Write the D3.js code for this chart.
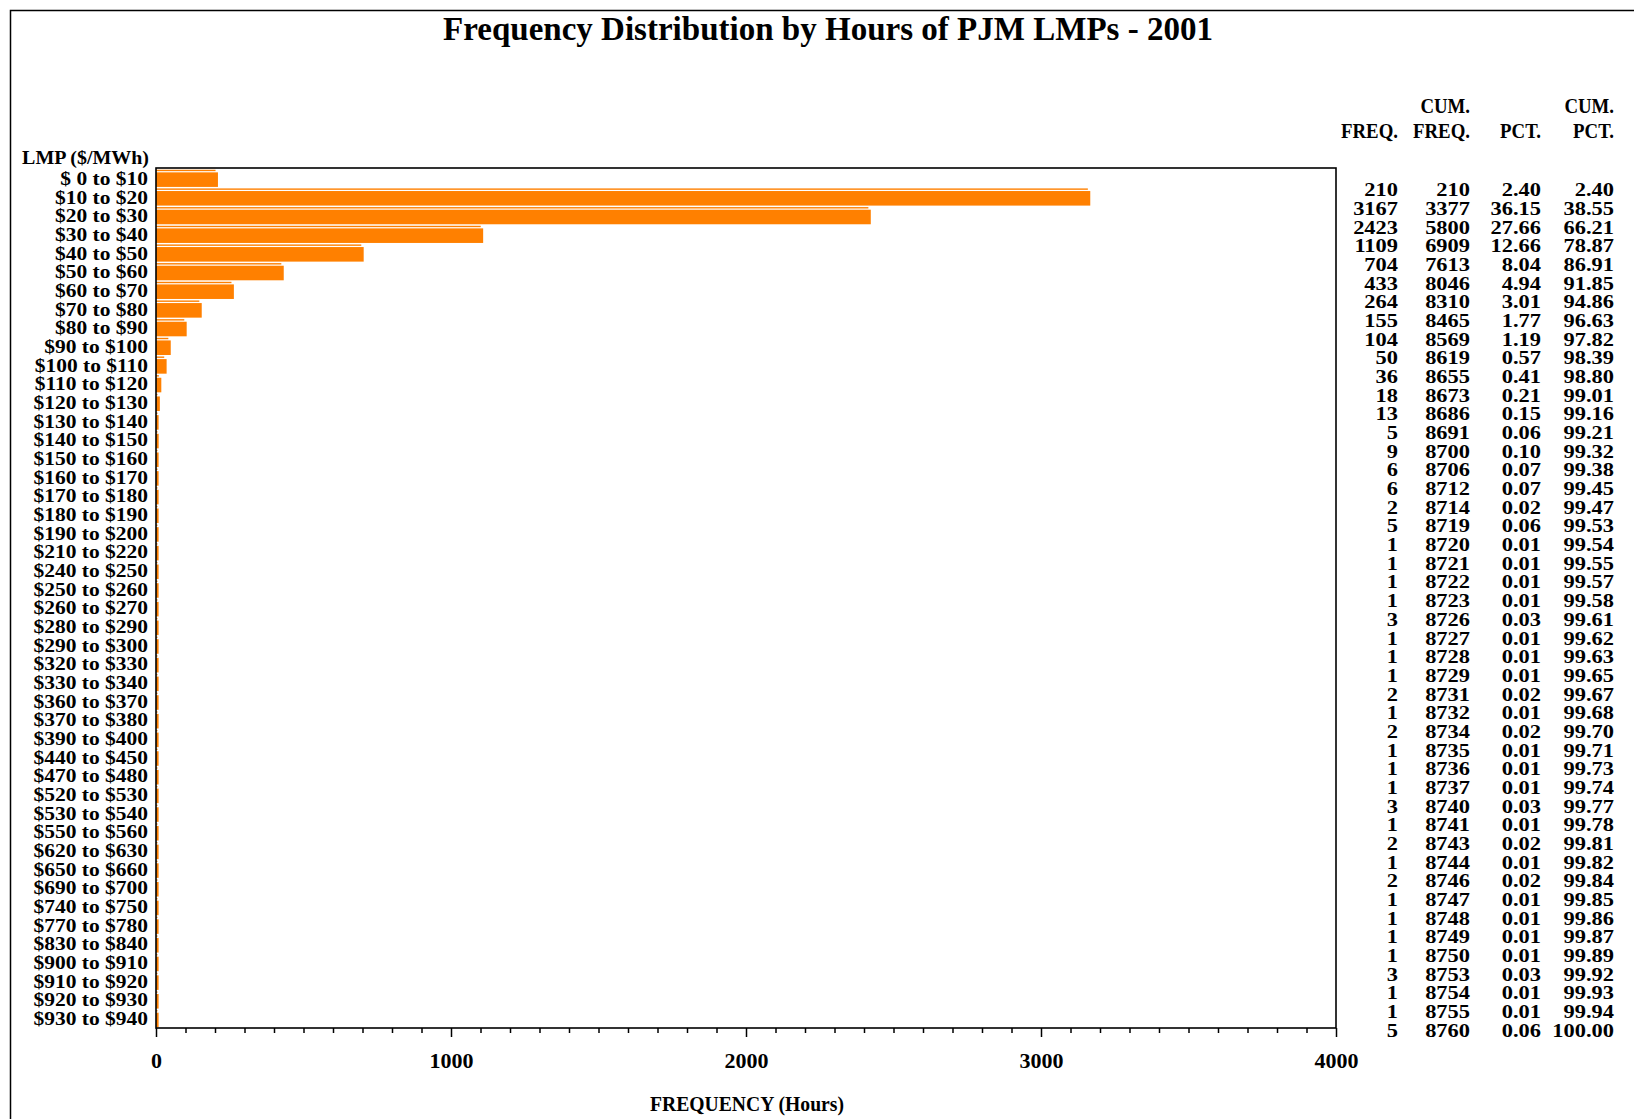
<!DOCTYPE html>
<html>
<head>
<meta charset="utf-8">
<script src="https://cdn.jsdelivr.net/npm/d3@7"></script>
<style>
  html, body { margin: 0; padding: 0; background: #fff; }
  svg { display: block; }
  text { font-family: "Liberation Serif", "Times New Roman", serif; font-weight: bold; fill: #000; }
</style>
</head>
<body>
<svg id="chart" width="1634" height="1119"></svg>
<script>
const titleText = "Frequency Distribution by Hours of PJM LMPs - 2001";
const yAxisTitle = "LMP ($/MWh)";
const xAxisTitle = "FREQUENCY (Hours)";

const categories = [
  "$ 0 to $10", "$10 to $20", "$20 to $30", "$30 to $40", "$40 to $50",
  "$50 to $60", "$60 to $70", "$70 to $80", "$80 to $90", "$90 to $100",
  "$100 to $110", "$110 to $120", "$120 to $130", "$130 to $140", "$140 to $150",
  "$150 to $160", "$160 to $170", "$170 to $180", "$180 to $190", "$190 to $200",
  "$210 to $220", "$240 to $250", "$250 to $260", "$260 to $270", "$280 to $290",
  "$290 to $300", "$320 to $330", "$330 to $340", "$360 to $370", "$370 to $380",
  "$390 to $400", "$440 to $450", "$470 to $480", "$520 to $530", "$530 to $540",
  "$550 to $560", "$620 to $630", "$650 to $660", "$690 to $700", "$740 to $750",
  "$770 to $780", "$830 to $840", "$900 to $910", "$910 to $920", "$920 to $930",
  "$930 to $940"
];

const freq = [
  210, 3167, 2423, 1109, 704, 433, 264, 155, 104, 50,
  36, 18, 13, 5, 9, 6, 6, 2, 5, 1,
  1, 1, 1, 3, 1, 1, 1, 2, 1, 2,
  1, 1, 1, 3, 1, 2, 1, 2, 1, 1,
  1, 1, 3, 1, 1, 5
];

const cumFreq = [
  210, 3377, 5800, 6909, 7613, 8046, 8310, 8465, 8569, 8619,
  8655, 8673, 8686, 8691, 8700, 8706, 8712, 8714, 8719, 8720,
  8721, 8722, 8723, 8726, 8727, 8728, 8729, 8731, 8732, 8734,
  8735, 8736, 8737, 8740, 8741, 8743, 8744, 8746, 8747, 8748,
  8749, 8750, 8753, 8754, 8755, 8760
];

const pct = [
  "2.40", "36.15", "27.66", "12.66", "8.04", "4.94", "3.01", "1.77", "1.19", "0.57",
  "0.41", "0.21", "0.15", "0.06", "0.10", "0.07", "0.07", "0.02", "0.06", "0.01",
  "0.01", "0.01", "0.01", "0.03", "0.01", "0.01", "0.01", "0.02", "0.01", "0.02",
  "0.01", "0.01", "0.01", "0.03", "0.01", "0.02", "0.01", "0.02", "0.01", "0.01",
  "0.01", "0.01", "0.03", "0.01", "0.01", "0.06"
];

const cumPct = [
  "2.40", "38.55", "66.21", "78.87", "86.91", "91.85", "94.86", "96.63", "97.82", "98.39",
  "98.80", "99.01", "99.16", "99.21", "99.32", "99.38", "99.45", "99.47", "99.53", "99.54",
  "99.55", "99.57", "99.58", "99.61", "99.62", "99.63", "99.65", "99.67", "99.68", "99.70",
  "99.71", "99.73", "99.74", "99.77", "99.78", "99.81", "99.82", "99.84", "99.85", "99.86",
  "99.87", "99.89", "99.92", "99.93", "99.94", "100.00"
];

const xTicks = [0, 1000, 2000, 3000, 4000];
const tableHeaderTop = ["", "CUM.", "", "CUM."];
const tableHeaderBottom = ["FREQ.", "FREQ.", "PCT.", "PCT."];

const svg = d3.select("#chart");
const W = 1634, H = 1119;
const plot = { left: 156, top: 168, right: 1336, bottom: 1028 };
const orange = "#FF8000";

function stretch(sel, factor) {
  sel.each(function () {
    const len = this.getComputedTextLength();
    d3.select(this).attr("textLength", len * factor).attr("lengthAdjust", "spacingAndGlyphs");
  });
}

// outer frame (right/bottom edges fall outside the picture)
svg.append("rect")
  .attr("x", 10.5).attr("y", 10.5)
  .attr("width", W + 20).attr("height", H + 20)
  .attr("fill", "none").attr("stroke", "#000").attr("stroke-width", 1.5);

// title
svg.append("text")
  .attr("x", 828).attr("y", 40)
  .attr("text-anchor", "middle")
  .attr("font-size", 33)
  .attr("textLength", 770).attr("lengthAdjust", "spacingAndGlyphs")
  .text(titleText);

// scales
const x = d3.scaleLinear().domain([0, 4000]).range([plot.left, plot.right]);
const y = d3.scaleBand().domain(categories).range([plot.top + 1, plot.bottom]).paddingInner(0.08).paddingOuter(0.04);

// bars (very small counts still drawn as a visible sliver, as in the original)
const rows = categories.map((c, i) => ({ c, v: freq[i], i }));
const barG = svg.append("g");
rows.forEach(d => {
  const x0 = x(0), w = Math.max(x(d.v) - x(0), 2.6);
  const y0 = y(d.c), h = y.bandwidth();
  barG.append("rect")
    .attr("x", x0).attr("y", y0 + 2.6)
    .attr("width", w).attr("height", h - 2.6)
    .attr("fill", orange);
  barG.append("rect")
    .attr("x", x0).attr("y", y0)
    .attr("width", Math.max(w - 2.4, 1.5)).attr("height", 1.4)
    .attr("fill", orange);
});

// plot frame
svg.append("rect")
  .attr("x", plot.left).attr("y", plot.top)
  .attr("width", plot.right - plot.left).attr("height", plot.bottom - plot.top)
  .attr("fill", "none").attr("stroke", "#000").attr("stroke-width", 1.6);

// x axis: minor ticks every 100, major at labelled ticks
const axisG = svg.append("g").attr("transform", `translate(0,${plot.bottom})`);
const minor = d3.range(0, 4001, 100).filter(v => !xTicks.includes(v));
axisG.call(d3.axisBottom(x).tickValues(minor).tickSize(5).tickFormat(""))
  .call(g => g.select(".domain").remove())
  .call(g => g.selectAll("line").attr("stroke", "#000").attr("stroke-width", 1.5));
const majorG = svg.append("g").attr("transform", `translate(0,${plot.bottom})`);
majorG.call(d3.axisBottom(x).tickValues(xTicks).tickSize(9).tickPadding(22).tickFormat(d3.format("d")))
  .call(g => g.select(".domain").remove())
  .call(g => g.selectAll("line").attr("stroke", "#000").attr("stroke-width", 1.5))
  .call(g => g.selectAll("text")
    .attr("font-family", "Liberation Serif, serif").attr("font-weight", "bold")
    .attr("font-size", 22).attr("fill", "#000").attr("dy", 0).attr("y", 40));

// x axis title
svg.append("text")
  .attr("x", 747).attr("y", 1111)
  .attr("text-anchor", "middle").attr("font-size", 20)
  .attr("textLength", 194).attr("lengthAdjust", "spacingAndGlyphs")
  .text(xAxisTitle);

// y axis title
svg.append("text")
  .attr("x", 149).attr("y", 164)
  .attr("text-anchor", "end").attr("font-size", 19)
  .text(yAxisTitle)
  .call(stretch, 1.05);

// category labels
svg.append("g").selectAll("text")
  .data(categories).join("text")
  .attr("x", 148)
  .attr("y", d => y(d) + y.bandwidth() / 2 + 6.5)
  .attr("text-anchor", "end").attr("font-size", 19)
  .text(d => d)
  .call(stretch, 1.13);

// table
const colRight = [1398, 1470, 1541, 1614];
const tableCols = [freq.map(String), cumFreq.map(String), pct, cumPct];
const tableHdr = svg.append("g");
tableHeaderTop.forEach((t, j) => {
  if (t) tableHdr.append("text").attr("x", colRight[j]).attr("y", 113)
    .attr("text-anchor", "end").attr("font-size", 20).text(t).call(stretch, 0.94);
});
tableHeaderBottom.forEach((t, j) => {
  tableHdr.append("text").attr("x", colRight[j]).attr("y", 138)
    .attr("text-anchor", "end").attr("font-size", 20).text(t).call(stretch, 0.94);
});
const tableG = svg.append("g");
tableCols.forEach((col, j) => {
  tableG.selectAll(null).data(col).join("text")
    .attr("x", colRight[j])
    .attr("y", (d, i) => y(categories[i]) + y.bandwidth() / 2 + 18)
    .attr("text-anchor", "end").attr("font-size", 19)
    .text(d => d)
    .call(stretch, 1.18);
});
</script>
</body>
</html>
